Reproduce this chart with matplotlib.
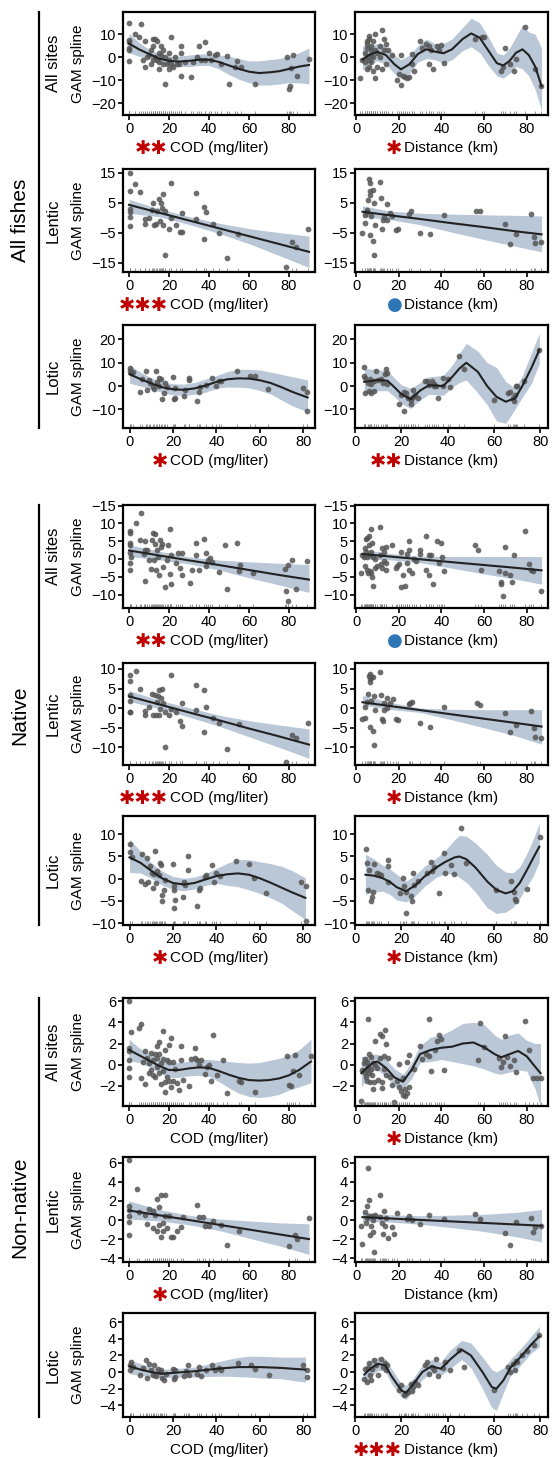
import numpy as np
import matplotlib.pyplot as plt
from matplotlib.lines import Line2D

plt.rcParams['font.family'] = ['Liberation Sans', 'DejaVu Sans']

W, H = 552, 1457

# ---------------- All fishes ----------------
# all sites, COD
af_all_cod_pts = [(0,15),(0,7.5),(0,6.5),(0,4),(0,3),(0,-1.5),(3,10),(5,9),(6,14.5),(7,-1),(8,7),(8,-4),(9,0),(10,1),(11,-3),(11,3),(12,5),(12,8),(12,-1),(13,0),(13,8),(14,7),(14,-1),(15,2),(15,-2),(15,-5),(16,1),(16,5),(17,-3),(17,3),(18,-11.5),(18,0),(19,-3),(20,-1),(20,-5),(20,2),(21,9),(21,-3),(22,-4),(23,0),(24,-3),(25,-3),(26,-8),(26,2),(26,5),(28,-2),(31,-8.5),(32,-2),(34,0),(35,5),(36,-1),(38,6.5),(38,-1),(40,2),(41,-1),(43,1),(44,1.5),(46,-3),(49,0.5),(50,-11.5),(53,-4),(54,-1.5),(56,-4),(63,-11.5),(79,0),(80,-13.5),(80.5,-12.5),(81,-4.5),(82,1),(84,-8),(90,-0.5)]
af_all_cod_cx = [0,5,10,15,20,25,30,35,40,45,50,55,60,65,70,75,80,85,90]
af_all_cod_cy = [6,3.5,1.5,-0.5,-1.5,-1.8,-1.5,-1,-1,-2,-3.5,-5,-6.2,-6.8,-6.5,-6,-5,-4,-3.3]
af_all_cod_lo = [2,0.5,-0.5,-2.5,-3.5,-4,-4,-3.5,-3.5,-5,-7.5,-9.5,-11,-12,-12,-11.5,-11,-11,-11.5]
af_all_cod_hi = [10.5,6.5,3.5,1.5,0.5,0.5,1,1.5,1.5,1,0.5,-0.5,-1.5,-1.5,-1,-0.5,0.5,2,4]

# all sites, distance
af_all_dis_pts = [(2,-9),(3,-1),(4,2),(4,-2),(5,7),(5,6),(5,0),(5,-5),(5,4),(6,9.5),(6,8),(6,-4),(6,-1),(7,3),(7,5),(7,-2),(7,1),(8,7),(8,0),(8,-6),(9,10),(9,-9),(9,3),(10,2),(10,-4),(11,5),(11,0),(12,12),(12,-5),(13,3),(13,8),(14,6),(14,-3),(15,3),(17,1),(19,-10),(20,-7),(21,1),(21,-12),(22,-8),(23,-8.5),(24,-9),(25,-8.5),(26,-3),(26,1.5),(27,-6),(30,7),(31,4),(33,6),(34,-3),(34,5),(35,3),(36,-5),(38,5),(39,3),(40,5.5),(41,-2.5),(56,8),(59,9),(60,9),(68,-6),(69,-4),(70,4),(72,-3),(74,-6),(75,-0.5),(79,13),(84,-5),(86.5,-12.5)]
af_all_dis_cx = [3,6,10,14,18,21,25,29,33,37,41,45,50,54,58,62,66,69,72,75,78,81,84,87]
af_all_dis_cy = [-1,1,2.4,1,-3,-5.2,-3,1.5,3.5,2.5,1.8,3.5,8,10.4,8.5,3,-2.5,-3.5,-1.5,2,3.5,1,-4,-12.5]
af_all_dis_lo = [-5.5,-3,-1.5,-3,-7,-9,-7,-2,-0.5,-1,-2.5,-1,3,4.6,2,-3.5,-8,-9,-7,-4,-5,-8,-14,-23]
af_all_dis_hi = [5,5,6,5,1,-1,1,5,8,6,6,8,13,17,15,9,2,1,4,9,14,11,10,4]

# lentic, COD
af_len_cod_pts = [(0.3,15),(0.3,8.9),(0.3,2.8),(0.3,2),(0.3,0.3),(0.3,-2.8),(3,11.1),(5.4,8.5),(8.2,-0.4),(8.2,-2),(9.9,0),(11.7,2.6),(12,4.8),(12.3,-2.5),(13.7,-1.9),(14,2.1),(14.9,6.4),(15.3,-0.9),(15.9,5),(16.5,3.1),(17,7.8),(17,-2.5),(17.8,2.1),(18.2,-12.2),(19.8,-3.6),(20.9,11.4),(21.2,-0.1),(23.7,-2.5),(25.3,-4.7),(26.5,1.7),(26.7,-4.7),(33.3,8.1),(33.7,-0.3),(37.3,3.6),(37.3,-7.1),(38.3,1.9),(42,-2.1),(45,-5),(49,-13.4),(54.7,-5.4),(78.4,-16.5),(81.7,-8.2),(83.7,-9.7),(89.5,-3.8)]
af_len_cod_cx = [0,15,30,45,60,75,90]
af_len_cod_cy = [4.3,1.7,-0.9,-3.5,-6.1,-8.7,-11.3]
af_len_cod_lo = [1.5,0.4,-2.2,-5.2,-8.6,-12.5,-16.5]
af_len_cod_hi = [6.1,3.0,0.4,-1.8,-3.6,-4.9,-6.1]

# lentic, distance
af_len_dis_pts = [(2.8,-5),(4,0.9),(4.4,-1.7),(4.9,2.6),(5.2,1.8),(5.5,5.9),(6,12.8),(6.3,11.5),(6.4,9),(6.4,-5.8),(6.7,7.6),(7.2,0.5),(7.8,-7.7),(8,9.2),(8.3,5),(8.6,-12.2),(9.1,-2.4),(11.4,12),(11.9,6.5),(12.3,-3.8),(12.6,-0.8),(13.1,0.3),(14.4,4.6),(14.7,-0.8),(15.8,1.5),(17,0.7),(18.5,-3.9),(19.8,-3.8),(24.7,1.2),(25.8,2.2),(30.2,-5),(34.6,-5.3),(41.2,0.9),(56.3,2.1),(58,2.1),(70,-1.9),(72.2,-8.8),(75.2,-5.5),(81.9,1.1),(83.5,-6.5),(83.8,-8.3),(86.9,-8)]
af_len_dis_cx = [3,15,30,45,60,75,87]
af_len_dis_cy = [2,0.9,-0.4,-1.8,-3.1,-4.5,-5.5]
af_len_dis_lo = [0.3,-0.5,-2.3,-4.8,-7.2,-9.5,-11.3]
af_len_dis_hi = [4,2.3,1.5,1.2,1,0.8,0.6]

# lotic, COD
af_lot_cod_pts = [(0,7.6),(0,6.6),(0.5,5.7),(1.5,6.1),(4.9,-2.4),(5.8,3),(7.7,6.4),(8,-1.7),(8.8,2.6),(9.5,1.1),(10.8,-0.6),(11.5,-1.4),(12,6.4),(12.6,1.8),(13.5,0),(13.8,3.6),(14.6,2.9),(15,-5.7),(15.8,-3.1),(16.4,1.3),(17.4,-0.6),(20,3.7),(20.3,-5.6),(21,-5),(21,-1),(25,-4.4),(25.4,-1.6),(27.4,3.6),(27.4,2.6),(31.2,-6.5),(32,-2.4),(32.3,-0.6),(35,0.4),(38,3.3),(39.6,0),(41,2.3),(42,2.3),(49.7,6.4),(55.7,4.3),(58,4.3),(63.8,-1.3),(80,-0.7),(81.9,-2.4),(81.9,-10.7)]
af_lot_cod_cx = [0,5,10,15,20,25,30,35,40,45,50,55,60,65,70,75,82]
af_lot_cod_cy = [5.1,3,1.1,-0.5,-1.4,-1.6,-1,0.2,1.8,2.9,3.3,3.2,2.5,1.3,-0.5,-2.5,-4.9]
af_lot_cod_lo = [1.2,0,-1.3,-2.8,-3.8,-4,-3.5,-2.6,-1,-0.4,-0.5,-0.8,-1.9,-3.4,-6,-8.5,-11]
af_lot_cod_hi = [9,6,3.5,1.8,1,0.8,1.5,3,4.5,6.2,7.1,7.2,6.9,6,5,4,2.6]

# lotic, distance
af_lot_dis_pts = [(4,8),(4,4.5),(4.5,3.5),(4.5,-3),(5.5,1.5),(6,-2),(6.5,3),(7,-3),(7,1),(8,2),(8,-2),(9,6.5),(10,2.5),(11,3),(12,1.5),(13,5),(13.5,7.5),(14,5.5),(14,1),(19,-7.5),(20,-4),(21,-10.5),(21,-2.5),(22,-3),(23,-5),(24,-6),(24,-7.5),(25,-1.5),(25,-4.5),(26,-4),(27,-5),(30,2),(31,2),(32,0.5),(33,2),(34,0),(34,1),(35,0),(36,-5),(38,3.5),(38,0),(40,3),(41,-0.5),(45,13),(47,7.5),(60,-6),(66,-3),(67,-2.5),(68,-5),(68.5,-6.5),(69,-4),(69.5,0),(70,0),(73,2),(79.5,15.5)]
af_lot_dis_cx = [4,10,14,17,20,24,28,32,38,42,45,48,53,57,61,65,69,72,76,79.5]
af_lot_dis_cy = [1.8,2.6,2.3,-0.5,-3.5,-5.7,-2,0.4,0,4,7.5,10,6.1,0,-4.6,-6.7,-5.3,-0.3,7.6,15.5]
af_lot_dis_lo = [-3.1,-2,-2,-4.5,-7.5,-9.6,-6,-3.5,-4,-0.5,1.5,2.6,-3,-8,-15,-16,-10,-5,1,9.7]
af_lot_dis_hi = [7.6,7,6.5,3.5,0.5,-1,1.5,4,4.5,9,14,18.3,15,10,8,2,-1,4,14,22.6]

# ---------------- Native ----------------
na_all_cod_pts = [(0.3,7.8),(0.3,7.3),(0.3,4.5),(0.3,4),(0.3,1.6),(0.3,-1),(0.3,-3.2),(1.2,0.7),(3.3,10.2),(5.3,5.4),(6.2,12.9),(7.3,1.5),(8.2,5),(8.2,2.6),(8.2,-6.3),(9,2.4),(10,-0.4),(11.2,-2.8),(11.7,5.4),(12,7.3),(12.3,-0.2),(12.8,4.3),(13,7),(13.7,-3.2),(14,2.4),(14.5,0.7),(15,-4.6),(15.3,5.4),(16.2,3.4),(16.7,4.3),(17,-2.3),(17.8,-7.9),(19,-0.4),(19.5,4),(20.3,8.4),(20.3,-4.2),(21.2,-7.1),(21.2,1.1),(23.3,-1),(24.5,1.6),(25.3,-2.6),(26.7,1.8),(26.7,-4.4),(30.7,-6.9),(31.7,-3.2),(33.7,4.5),(33.7,1.1),(35,-3.2),(37.3,5.7),(38.3,1.6),(38.7,-2),(39.5,-0.4),(40.3,0.2),(41.7,-0.8),(45,-3.7),(48.2,3.8),(49.2,-8.4),(54,4.5),(55,-3.3),(55.7,-1.6),(62,-4),(77.8,-2.7),(79.5,-1.6),(78.5,-8.9),(79.5,-11.8),(81.7,-0.3),(83.3,-8.5),(89.2,-0.7)]
na_all_cod_cx = [0,15,30,45,60,75,90]
na_all_cod_cy = [2.4,1.0,-0.4,-1.7,-3.1,-4.5,-5.8]
na_all_cod_lo = [0.7,-0.2,-1.4,-3.1,-5.3,-7.3,-9.4]
na_all_cod_hi = [4,2.2,0.6,-0.3,-0.8,-1.2,-1.6]

na_all_dis_pts = [(2.5,-4),(3,1),(3.5,0.5),(4,-2),(4,3),(4.5,5.5),(4.5,2),(5,6),(5,-3),(5,0.5),(5.5,-4),(6,6.5),(6,4),(6.5,1),(6.5,-3.5),(7,8.5),(7,-4),(7,2),(7.5,-5),(7.5,4.5),(8,-7.5),(8,0.5),(9,-2.5),(9,0),(10,-2),(11,9),(11,1),(11.5,-1.5),(12,-2.5),(12,3),(13,2),(13,-0.5),(14,-1),(14,3.5),(14,-3),(17,4),(18.5,-2.5),(19,-2),(20,-1.5),(21,2),(21,-8),(22,-4.5),(23,-7.5),(24,-1),(24,1.5),(25,-3),(25,5),(25,2.5),(26,-4),(27,0),(28,-0.5),(30,1.5),(30,2.5),(33,6.5),(33,-3),(34,1),(34,-4.5),(35,1),(36,-7),(38,5),(39,-1),(40,4.5),(40.5,0.5),(41,-3.5),(56,4),(57,2.5),(58.5,-3),(67,-3.5),(68,-6.5),(68,-7),(69,-10.5),(70,3.5),(70,-4),(72,-4.5),(73,-6.5),(74,1),(79,8),(81,-1.5),(82,-3),(83,-3.5),(86.5,-9)]
na_all_dis_cx = [3,15,30,45,60,75,87]
na_all_dis_cy = [1.4,0.74,-0.08,-0.9,-1.7,-2.5,-3.2]
na_all_dis_lo = [0,-0.2,-1,-2.6,-4.2,-5.7,-7.1]
na_all_dis_hi = [2.8,1.6,0.8,0.7,0.7,0.7,0.7]

na_len_cod_pts = [(0.3,8.5),(0.3,7),(0.3,3.4),(0.3,1.9),(0.3,-0.9),(0.3,-1.1),(3.3,9.4),(5.3,5),(8.2,-0.7),(8.2,-1.7),(9.9,0.4),(11.7,3.7),(12,-1.7),(12.8,3.4),(13.7,-1.7),(14,1.5),(14.5,3.1),(15,4.5),(15,-1.7),(15.3,-0.1),(16.2,2.5),(16.7,4.8),(17,1.3),(17.8,-9.8),(18.2,-1.1),(19.8,-1.7),(20.9,8.5),(21.2,-0.1),(23.7,-1),(25.3,-3.2),(26.5,1.3),(26.7,-4.5),(33.3,5.9),(33.7,-0.5),(37.3,4.5),(37.3,-6.2),(38.3,0.2),(42,-2.6),(45,-3.7),(49,-10.5),(55,-4),(78.4,-13.7),(81.7,-6.8),(83.7,-7.7),(89.5,-3.8)]
na_len_cod_cx = [0,15,30,45,60,75,90]
na_len_cod_cy = [3,0.96,-1.1,-3.1,-5.2,-7.2,-9.3]
na_len_cod_lo = [1.7,-0.1,-2.3,-4.6,-7.3,-10,-12.8]
na_len_cod_hi = [4.5,2,0.1,-1.8,-3.2,-4.3,-5.3]

na_len_dis_pts = [(2.8,-2.7),(4.1,-2.5),(4.4,0.3),(4.9,1.5),(5.5,3.7),(6,8.3),(6.3,7.4),(6.3,6.6),(6.4,-4.8),(6.7,8.8),(7,8),(7.2,1.7),(7.8,-5.8),(8,8),(8.3,3.1),(8.6,-9.4),(9.1,-0.6),(11.4,9.1),(11.9,3.3),(12.3,-2.8),(12.6,-3.2),(13.1,-0.4),(13.1,1.3),(14.4,2.5),(14.7,0),(15.8,1.3),(17.3,2.3),(18.5,-2.7),(19.8,-3),(24.7,1),(25.5,1.3),(26,1.6),(30.2,-3.7),(34.6,-4.8),(41.2,0.4),(56.5,1.3),(58.3,0.8),(70,-1.3),(72.2,-6.2),(75.2,-4.4),(81.9,-0.7),(83.5,-5.1),(83.8,-7.4),(86.9,-7.7)]
na_len_dis_cx = [3,15,30,45,60,75,87]
na_len_dis_cy = [1.5,0.6,-0.5,-1.6,-2.7,-3.8,-4.7]
na_len_dis_lo = [0.8,-0.3,-1.1,-3,-5,-7.1,-9.2]
na_len_dis_hi = [3.2,1.6,0,-0.3,-0.4,-0.4,-0.4]

na_lot_cod_pts = [(0,7.7),(0.3,6),(1.1,4.8),(5.1,-0.4),(5.9,5.5),(7,-1.2),(8,4.7),(8.3,-0.7),(9.6,2.8),(10.2,1.4),(11,-2.1),(11.5,1),(11.8,6.2),(12.3,-0.9),(12.8,1.8),(13.4,0.9),(13.9,3.6),(14.7,3),(15,-3.6),(15,-4.9),(15.8,-2.5),(16.3,-0.2),(19.8,3.4),(20.3,-1.7),(20.3,-6.5),(20.6,-2.5),(21.1,-4.7),(24.6,-4.1),(25.1,-0.7),(25.6,-1.3),(27,5),(27,2),(31.2,-6.2),(31.8,-2.5),(32.3,-2),(34.7,0.5),(35.2,0.8),(37.9,3),(39,-0.7),(40,1.2),(41.6,0.6),(49.1,4),(55,3.4),(57.1,0.2),(63,-3.1),(79,-0.7),(81.4,-1.7),(81.1,-9.6)]
na_lot_cod_cx = [0,5,10,15,20,25,30,35,40,45,50,55,60,65,70,75,81]
na_lot_cod_cy = [4.8,3.6,1.8,0.1,-0.95,-1.3,-0.95,-0.15,0.6,1.0,1.2,0.9,0.1,-0.9,-2.0,-3.1,-4.3]
na_lot_cod_lo = [1.4,1.3,0.1,-1.4,-2.4,-2.7,-2.3,-1.5,-1.0,-1.5,-1.8,-2.5,-3.3,-4.3,-5.5,-7.2,-9.2]
na_lot_cod_hi = [8.9,6.2,3.6,1.7,0.5,0.1,0.4,1.2,2.3,3.5,4.3,4.3,3.8,3.4,2.8,1.8,0.2]

na_lot_dis_pts = [(4.9,6.6),(5.2,3.6),(5.6,-2.5),(5.9,2),(7,-4.9),(7.4,-4.1),(7.9,-2.9),(8.4,3.4),(9.3,1.4),(10.4,1),(11.4,0.9),(14.1,4.2),(14.4,2.8),(14.1,-0.7),(19.3,-3.2),(20.7,0.2),(21.2,-1.7),(21.8,-7.8),(22.2,-2.9),(24.1,-3.9),(24.7,-4.9),(25.2,1.4),(25.6,-1.3),(27.1,-0.4),(31.1,1.2),(32.6,3.8),(33.3,1.8),(34.1,2.6),(36.3,-3.1),(38.5,5.8),(39,1.4),(41.5,3),(42.5,1),(45.9,11.5),(47.9,3.6),(60.7,-2.5),(67.4,-0.4),(68.6,-2.9),(68.9,-4.5),(69.6,-5.1),(74.4,-2.3),(80,9.3)]
na_lot_dis_cx = [4.5,8,12,15,18,22,26,30,35,39,43,45,48,52,57,61,65,68,71,74,77,79.5]
na_lot_dis_cy = [0.9,0.7,0.1,-0.7,-1.9,-2.8,-1.5,0.5,2.5,3.8,4.8,5.0,4.4,2.5,-0.6,-2.5,-3.3,-2.8,-1.0,1.8,4.8,7.2]
na_lot_dis_lo = [-3.5,-3,-2.8,-3.5,-4.8,-5.2,-3.8,-1.7,0.3,1.2,0.9,0.3,-0.8,-3,-6.5,-7.8,-7.5,-6.5,-4.5,-1.8,0.7,3.8]
na_lot_dis_hi = [5.5,4.5,3,2.2,1,-0.5,0.8,2.8,4.6,6.4,8.8,9.7,9.6,8,5.5,3,1.5,1.3,2.6,5.5,9,12.5]

# ---------------- Non-native ----------------
nn_all_cod_pts = [(0,6),(0,1.6),(0,1.3),(0,0.4),(0,-0.3),(0,-1.2),(1,3.1),(5,3.5),(6,3.8),(6,-1.3),(7,0.3),(8,1.3),(8,-1.8),(9,0.6),(10,0.2),(10,-0.8),(11,1.1),(11,-0.5),(12,0.4),(12,-1),(13,1),(13,-1.2),(14,0.6),(14,1.8),(14,-0.2),(15,2.1),(15,1),(15,-0.8),(16,0.2),(16,-1.8),(17,3.2),(17,0.5),(17,-0.6),(18,1.4),(18,-1.6),(18,-2.6),(19,0.4),(19,-1.2),(20,1.9),(20,0.3),(20,-1.5),(21,2.5),(21,-2.1),(22,-1.5),(22,0.3),(23,-0.4),(24,-1.7),(25,-2.4),(26,1.8),(26,0.4),(27,-1.4),(30,-2),(31,0.5),(33,1.6),(33,0.6),(34,0.4),(35,0),(36,0.4),(38,-0.9),(39,-0.2),(40,0),(41,-1.5),(42,2.8),(44,-1),(47,0.4),(49,-2.7),(55,-1.5),(56,-1.6),(63,-2.6),(79,0.8),(80,-1.9),(81,-2),(82,-0.6),(83,0.9),(85,-1),(91,0.8)]
nn_all_cod_cx = [0,5,10,15,20,25,30,35,40,45,50,55,60,65,70,75,80,85,91]
nn_all_cod_cy = [1.4,0.9,0.4,-0.1,-0.5,-0.5,-0.35,-0.25,-0.3,-0.6,-0.95,-1.25,-1.45,-1.5,-1.45,-1.3,-1.0,-0.5,0.3]
nn_all_cod_lo = [0.4,0.2,-0.2,-0.7,-1.2,-1.2,-1.05,-1.0,-1.1,-1.6,-2.2,-2.7,-3.0,-3.1,-3.0,-2.8,-2.4,-2.1,-1.7]
nn_all_cod_hi = [2.4,1.6,1.0,0.5,0.2,0.2,0.35,0.5,0.5,0.4,0.3,0.2,0.15,0.2,0.4,0.6,0.9,1.4,2.4]

nn_all_dis_pts = [(2.5,-3.4),(3,-0.5),(3.5,0.2),(4,-0.8),(4,0.5),(4.5,-1.2),(5,-0.5),(5,0.3),(5,-1.5),(5.5,4.3),(5.5,-0.2),(6,1),(6,-0.8),(6.5,-1.6),(7,-0.4),(7,0.7),(7.5,-1),(8,-2.3),(8,0.2),(8.5,-1.6),(9,2.2),(9,0),(10,-0.3),(10.5,-1.4),(11,2.9),(11,0.6),(12,2.7),(12,-1.6),(12,-2.2),(13,0.8),(13,-0.4),(13.5,3.3),(14,2),(14,-1),(15,0.6),(16,-1.2),(17,-1.9),(18,-3.5),(19,-1.5),(20,0.1),(20,-2.1),(21,-2.5),(22,-2.9),(22,-1.3),(23,-2.3),(23,-3),(24,0.3),(24,-2.7),(25,0.9),(25,-2.1),(27,-0.4),(30,1.8),(31,0.5),(33,1),(34,4.3),(34,0.8),(35,-0.6),(37,1.4),(38,2.2),(39,2.8),(40,2.4),(41,-0.5),(57,0.4),(58,3.9),(60,1.7),(67,0.6),(68,-0.2),(69,0.3),(70,2.7),(71,0.7),(72,-0.1),(74,0.4),(75,-0.7),(79,4.1),(81,1.4),(83,-1.3),(85,-1.3),(86.5,-1.3)]
nn_all_dis_cx = [2.5,5,8,10,14,18,22,26,30,35,40,45,50,55,60,65,68,72,76,80,84,86.5]
nn_all_dis_cy = [-0.8,-0.3,0.2,0.3,-0.3,-1.2,-1.6,-0.5,1.0,1.4,1.6,1.7,2.0,2.1,1.65,1.0,0.7,1.0,1.3,0.8,-0.2,-0.8]
nn_all_dis_lo = [-2.1,-1.3,-0.6,-0.5,-1.1,-2.0,-2.3,-1.3,0.2,0.3,0.5,0.3,0.1,-0.1,-0.4,-0.8,-0.9,-0.7,-0.5,-0.6,-2.3,-4.0]
nn_all_dis_hi = [0.8,0.8,1.0,1.0,0.5,-0.4,-0.9,0.2,1.8,2.6,2.8,3.3,3.9,4.0,3.8,2.8,2.4,2.8,3.0,2.3,2.0,2.0]

nn_len_cod_pts = [(0,6.3),(0,1.5),(0,1.0),(0,0.4),(0,-0.2),(0,-1.6),(4,3.3),(5,0.8),(8,0.5),(9,-0.4),(10,1.2),(12,0.9),(12,-0.8),(13,0.5),(14,2.2),(14,-1.1),(15,1.4),(15,-0.5),(16,2.6),(16,-1.8),(17,-0.3),(17,-1.2),(18,2.6),(18,0.4),(19,-0.8),(20,0.4),(21,-1.8),(22,-1.8),(24,-1.2),(26,-0.7),(27,0.3),(34,1.6),(35,0.3),(37,0.3),(38,-0.6),(40,-0.6),(42,-0.1),(46,-0.5),(49,-2.6),(55,-1.1),(80,-2.7),(83,-1.6),(84,-2),(90,0.2)]
nn_len_cod_cx = [0,15,30,45,60,75,90]
nn_len_cod_cy = [1.0,0.5,0,-0.5,-1.0,-1.5,-2.0]
nn_len_cod_lo = [0.1,-0.1,-0.5,-1.1,-1.9,-2.7,-3.6]
nn_len_cod_hi = [2,1.1,0.5,0.1,-0.1,-0.3,-0.4]

nn_len_dis_pts = [(2.5,-0.6),(3,-2.5),(4,0.8),(4.5,-0.3),(5,0.2),(5,1.5),(5.5,5.5),(6,2.1),(6,0.4),(6.5,-1.6),(7,-0.6),(7.5,0.4),(8,-1.3),(8,0),(8.5,-3.4),(9,0.5),(11,2.6),(11,0.3),(12,-0.3),(12.5,-1.5),(13,0.9),(13.5,-0.6),(14,0.2),(15,-1.9),(17,-0.7),(18,-1.5),(19,0.7),(24,0.1),(25,0.4),(26,0),(30,-0.4),(34,0.5),(41,0.1),(56,0.6),(58,0.1),(70,-1.4),(72,-2.6),(75,-0.2),(82,0.2),(83,-1.3),(84,-0.7),(86.5,-0.6)]
nn_len_dis_cx = [3,15,30,45,60,75,87]
nn_len_dis_cy = [0.3,0.17,0.01,-0.15,-0.31,-0.47,-0.6]
nn_len_dis_lo = [-0.2,-0.2,-0.45,-0.8,-1.2,-1.75,-2.3]
nn_len_dis_hi = [0.8,0.55,0.45,0.5,0.6,0.8,1.1]

nn_lot_cod_pts = [(0,0.8),(0,0.3),(0.5,1.2),(1.5,0.6),(5,-0.3),(6,0.5),(7.5,1.5),(8,-0.7),(9,1),(10,0.2),(11,-0.4),(11.5,0.8),(12,-0.5),(13,0.4),(14,0),(14.5,0.3),(15,-0.7),(16,-1),(17,-0.2),(20,0.4),(20.5,-0.8),(21,-0.6),(21,0.2),(25,-0.5),(26,0.1),(27,0.8),(27.5,-0.3),(31,-0.2),(32,0.6),(33,-0.5),(35,0.3),(38,0.9),(39.5,0.2),(41,0.5),(42,0.3),(50,1.1),(56,0.8),(58,0.4),(64,-0.3),(80,0.9),(81.5,-0.6),(81.5,0.2)]
nn_lot_cod_cx = [0,5,10,15,20,25,30,35,40,45,50,55,60,65,70,75,81]
nn_lot_cod_cy = [0.7,0.3,0,-0.2,-0.1,0,0.1,0.25,0.4,0.5,0.6,0.6,0.6,0.55,0.5,0.4,0.3]
nn_lot_cod_lo = [-0.2,-0.4,-0.6,-0.7,-0.6,-0.6,-0.6,-0.55,-0.5,-0.5,-0.55,-0.6,-0.7,-0.75,-0.8,-1.0,-1.2]
nn_lot_cod_hi = [1.5,1.0,0.6,0.3,0.4,0.5,0.6,0.9,1.2,1.5,1.75,1.9,1.9,1.85,1.8,1.8,1.8]

nn_lot_dis_pts = [(4,-0.8),(4.5,0.4),(5,-1.2),(5.5,0.5),(6,1.1),(6.5,-0.3),(7,-1),(7.5,0.4),(8,1.4),(9,0.8),(10,-0.3),(11,1.6),(12,0.6),(13,1.1),(13.5,0.3),(14,0.9),(19,-2.2),(20,-1.5),(21,-2.7),(21.5,-2.6),(22,-2.5),(23,-2.4),(24,-1.4),(24.5,-2.3),(25,-1.8),(26,-1.2),(27,-1.5),(30,0.8),(31,1.2),(32,-0.2),(33,0.6),(34,0.2),(35,1.6),(36,-0.5),(38,0.5),(39,1.2),(41,0.3),(45,2.7),(47,0.6),(60,-2.1),(66,0.6),(67,0),(68,1),(69,0.3),(69.5,1.3),(70,1.2),(72,2),(74,2.5),(77,3.2),(79.5,4.5)]
nn_lot_dis_cx = [4,7,10,13,16,20,22,25,29,33,37,41,46,50,55,59,61,64,67,72,76,79.5]
nn_lot_dis_cy = [-0.3,0.5,1.0,0.8,-0.6,-2.2,-2.5,-1.5,0,0.7,0.4,1.5,2.7,2.0,0,-1.8,-2.0,-1.0,0.5,2.0,3.3,4.3]
nn_lot_dis_lo = [-1.5,-0.5,0.2,0.1,-1.5,-3.0,-3.3,-2.3,-0.9,-0.1,-0.4,0.4,1.5,0.5,-2.0,-4.3,-4.6,-2.5,-0.5,1.0,2.3,3.0]
nn_lot_dis_hi = [0.7,1.4,1.8,1.6,0.3,-1.4,-1.6,-0.8,0.8,1.5,1.2,2.6,3.8,3.5,1.8,0.3,0.0,0.5,1.5,3.0,4.3,5.5]

# significance marks (number of stars, or 'dot')
marks = [(2, 1), (3, 'dot'), (1, 2),
         (2, 'dot'), (3, 1), (1, 1),
         (0, 1), (1, 0), (0, 3)]

group_names = ['All fishes', 'Native', 'Non-native']
row_names = ['All sites', 'Lentic', 'Lotic']
xlabels = ['COD (mg/liter)', 'Distance (km)']

# ---------------- layout ----------------
row_top = [12, 169, 325, 505, 663, 816, 998, 1157, 1313]
row_h = [103, 103, 103, 103, 102, 109, 108, 105, 104]
col_x = [(123, 192), (355, 193)]
row_ylim = [(-25, 19.7), (-18, 16.2), (-18, 26.2), (-13.8, 15.2), (-14.5, 11.5),
            (-10.4, 14.1), (-3.9, 6.3), (-4.4, 6.6), (-5.4, 7.1)]
row_yticks = [[-20, -10, 0, 10], [-15, -5, 5, 15], [-10, 0, 10, 20],
              [-10, -5, 0, 5, 10, 15], [-10, -5, 0, 5, 10], [-10, -5, 0, 5, 10],
              [-2, 0, 2, 4, 6], [-4, -2, 0, 2, 4, 6], [-4, -2, 0, 2, 4, 6]]
xlim_cod = [(-3, 93), (-3, 93), (-3, 85.4)]
xlim_dis = [(-0.5, 90), (-0.5, 90), (0.75, 83.25)]

panels = [
    (af_all_cod_pts, af_all_cod_cx, af_all_cod_cy, af_all_cod_lo, af_all_cod_hi),
    (af_all_dis_pts, af_all_dis_cx, af_all_dis_cy, af_all_dis_lo, af_all_dis_hi),
    (af_len_cod_pts, af_len_cod_cx, af_len_cod_cy, af_len_cod_lo, af_len_cod_hi),
    (af_len_dis_pts, af_len_dis_cx, af_len_dis_cy, af_len_dis_lo, af_len_dis_hi),
    (af_lot_cod_pts, af_lot_cod_cx, af_lot_cod_cy, af_lot_cod_lo, af_lot_cod_hi),
    (af_lot_dis_pts, af_lot_dis_cx, af_lot_dis_cy, af_lot_dis_lo, af_lot_dis_hi),
    (na_all_cod_pts, na_all_cod_cx, na_all_cod_cy, na_all_cod_lo, na_all_cod_hi),
    (na_all_dis_pts, na_all_dis_cx, na_all_dis_cy, na_all_dis_lo, na_all_dis_hi),
    (na_len_cod_pts, na_len_cod_cx, na_len_cod_cy, na_len_cod_lo, na_len_cod_hi),
    (na_len_dis_pts, na_len_dis_cx, na_len_dis_cy, na_len_dis_lo, na_len_dis_hi),
    (na_lot_cod_pts, na_lot_cod_cx, na_lot_cod_cy, na_lot_cod_lo, na_lot_cod_hi),
    (na_lot_dis_pts, na_lot_dis_cx, na_lot_dis_cy, na_lot_dis_lo, na_lot_dis_hi),
    (nn_all_cod_pts, nn_all_cod_cx, nn_all_cod_cy, nn_all_cod_lo, nn_all_cod_hi),
    (nn_all_dis_pts, nn_all_dis_cx, nn_all_dis_cy, nn_all_dis_lo, nn_all_dis_hi),
    (nn_len_cod_pts, nn_len_cod_cx, nn_len_cod_cy, nn_len_cod_lo, nn_len_cod_hi),
    (nn_len_dis_pts, nn_len_dis_cx, nn_len_dis_cy, nn_len_dis_lo, nn_len_dis_hi),
    (nn_lot_cod_pts, nn_lot_cod_cx, nn_lot_cod_cy, nn_lot_cod_lo, nn_lot_cod_hi),
    (nn_lot_dis_pts, nn_lot_dis_cx, nn_lot_dis_cy, nn_lot_dis_lo, nn_lot_dis_hi),
]

band_col = '#b9c7d6'
pt_col = '#555555'

fig = plt.figure(figsize=(W / 100, H / 100), dpi=100)


def fx(px):
    return px / W


def fy(py):
    return 1 - py / H


for r in range(9):
    top, h = row_top[r], row_h[r]
    for c in range(2):
        x0, w = col_x[c]
        ax = fig.add_axes([fx(x0), fy(top + h), w / W, h / H])
        pts, cx, cy, lo, hi = panels[r * 2 + c]
        pts = np.array(pts)
        ax.fill_between(cx, lo, hi, color=band_col, lw=0, zorder=1)
        ax.scatter(pts[:, 0], pts[:, 1], s=17, color=pt_col, alpha=0.85, lw=0, zorder=2)
        ax.plot(cx, cy, color='#222222', lw=1.5, zorder=3)
        # rug
        ax.vlines(pts[:, 0], 0, 0.035, transform=ax.get_xaxis_transform(),
                  color='#888888', lw=0.6, zorder=2)
        ax.set_xlim(xlim_cod[r % 3] if c == 0 else xlim_dis[r % 3])
        ax.set_ylim(row_ylim[r])
        ax.set_xticks([0, 20, 40, 60, 80])
        ax.set_yticks(row_yticks[r])
        if r == 3:
            ax.set_yticklabels(['\u221210', '\u22125', '0', '5', '10', '\u221215'])
        for s in ax.spines.values():
            s.set_linewidth(1.6)
        ax.tick_params(labelsize=10.5, length=3.5, width=1.2, pad=1.5)

        # x label with significance mark
        t = ax.annotate(xlabels[c], xy=(0.5, 0), xycoords='axes fraction',
                        xytext=(0, -23.5), textcoords='offset points',
                        ha='center', va='center', fontsize=11)
        m = marks[r][c]
        if m == 'dot':
            ax.annotate('\u25cf', xy=(0, 0.45), xycoords=t, xytext=(-1.5, 0),
                        textcoords='offset points', ha='right', va='center',
                        color='#2e75b6', fontsize=13, family='DejaVu Sans')
        elif m:
            ax.annotate('\u2731' * m, xy=(0, 0.45), xycoords=t, xytext=(-1.5, 0),
                        textcoords='offset points', ha='right', va='center',
                        color='#c00000', fontsize=14, family='DejaVu Sans')

    yc = fy(top + h / 2)
    fig.text(fx(53), yc, row_names[r % 3], rotation=90, ha='center', va='center', fontsize=12)
    fig.text(fx(78), yc, 'GAM spline', rotation=90, ha='center', va='center', fontsize=11)

# group labels and bracket lines
for g in range(3):
    y_top = row_top[g * 3]
    y_bot = row_top[g * 3 + 2] + row_h[g * 3 + 2]
    fig.add_artist(Line2D([fx(39), fx(39)], [fy(y_top), fy(y_bot)], color='black', lw=1.6))
    fig.text(fx(20), fy((y_top + y_bot) / 2), group_names[g], rotation=90,
             ha='center', va='center', fontsize=15)

fig.savefig('out.png', dpi=100)
